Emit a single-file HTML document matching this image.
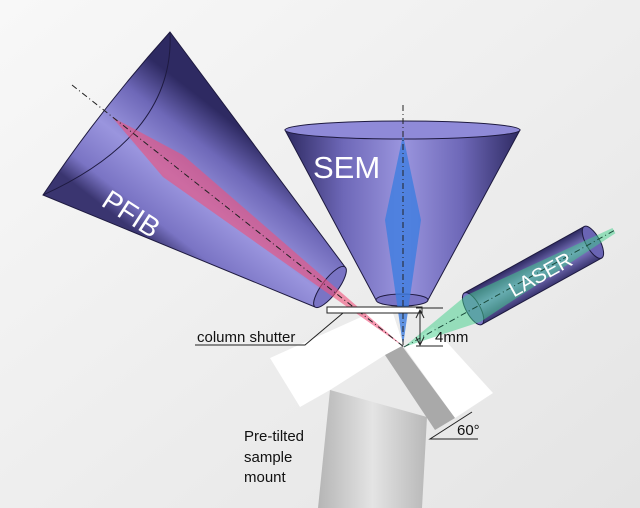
<!DOCTYPE html>
<html><head><meta charset="utf-8"><style>
html,body{margin:0;padding:0;width:640px;height:508px;overflow:hidden;background:#efefef}
svg{display:block}
text{font-family:"Liberation Sans",sans-serif}
</style></head><body>
<svg width="640" height="508" viewBox="0 0 640 508">
<defs>
<linearGradient id="bg" x1="0" y1="0" x2="1" y2="1"><stop offset="0" stop-color="#f8f8f8"/><stop offset="1" stop-color="#e4e4e4"/></linearGradient>
<linearGradient id="gp" gradientUnits="userSpaceOnUse" x1="255" y1="140" x2="165" y2="255"><stop offset="0" stop-color="#2e2a62"/><stop offset="0.25" stop-color="#6e68b8"/><stop offset="0.55" stop-color="#9a95de"/><stop offset="0.85" stop-color="#7a74c4"/><stop offset="1" stop-color="#3a3570"/></linearGradient>
<linearGradient id="gs" gradientUnits="userSpaceOnUse" x1="285" y1="0" x2="520" y2="0"><stop offset="0" stop-color="#2e2a62"/><stop offset="0.25" stop-color="#6e68b8"/><stop offset="0.5" stop-color="#9a95de"/><stop offset="0.75" stop-color="#6e68b8"/><stop offset="1" stop-color="#2e2a62"/></linearGradient>
<linearGradient id="gl" x1="0" y1="0" x2="0" y2="1"><stop offset="0" stop-color="#2e2a62"/><stop offset="0.5" stop-color="#8f8ad8"/><stop offset="1" stop-color="#3a3570"/></linearGradient>
<linearGradient id="gm" x1="0" y1="0" x2="1" y2="0"><stop offset="0" stop-color="#b5b5b5"/><stop offset="0.5" stop-color="#e4e4e4"/><stop offset="1" stop-color="#b8b8b8"/></linearGradient>
</defs>
<rect width="640" height="508" fill="url(#bg)"/>

<!-- sample mount pillar -->
<polygon points="330,390 427,417 422,508 318,508" fill="url(#gm)"/>
<!-- white sample holder -->
<polygon points="270,358 390,304 404,347 385,355 330,390 300,407" fill="#fff"/>
<polygon points="404,347 433,327 493,393 455,418" fill="#fff"/>
<polygon points="385,355 402,346 455,418 435,430" fill="#a9a9a9"/>

<!-- PFIB -->
<path d="M170,32 L345,267 L315,307 L43,195 Q100,110 170,32 Z" fill="url(#gp)" stroke="#1e1a40" stroke-width="1"/>
<path d="M170,32 Q175,135 43,195" fill="none" stroke="#1e1a40" stroke-width="1"/>
<ellipse cx="330" cy="287" rx="25" ry="8" transform="rotate(127 330 287)" fill="#7a74c4" stroke="#1e1a40"/>
<polygon points="112,117 183,155 404,347 163,177" fill="#f0507a" opacity="0.6"/>
<line x1="72" y1="85" x2="404" y2="347" stroke="#222" stroke-width="1" stroke-dasharray="6,3,1,3"/>
<text x="0" y="0" font-size="28" fill="#fff" transform="translate(100,205) rotate(33)">PFIB</text>

<!-- SEM -->
<path d="M285,130 L376,300 L428,300 L520,130 Z" fill="url(#gs)" stroke="#1e1a40"/>
<ellipse cx="402.5" cy="130" rx="117.5" ry="9" fill="#8f8ad8" stroke="#1e1a40"/>
<ellipse cx="402" cy="300" rx="26" ry="6" fill="#7a74c4" stroke="#1e1a40"/>
<polygon points="403,135 421,220 403,346 385,220" fill="#3d7de0" opacity="0.8"/>
<line x1="403" y1="105" x2="403" y2="346" stroke="#222" stroke-width="1" stroke-dasharray="6,3,1,3"/>
<text x="313" y="178" font-size="31" fill="#fff">SEM</text>

<!-- LASER -->
<g transform="translate(404,347) rotate(-29)">
<rect x="79" y="-18" width="137" height="36" fill="url(#gl)" stroke="#1e1a40"/>
<ellipse cx="216" cy="0" rx="7" ry="18" fill="#6a64b4" stroke="#1e1a40"/>
<ellipse cx="79" cy="0" rx="7" ry="18" fill="#7a74c4" stroke="#1e1a40"/>
<polygon points="0,0 79,-15 240,-3 240,3 79,15" fill="#3fd08a" opacity="0.5"/>
<line x1="0" y1="0" x2="240" y2="0" stroke="#1a4a3a" stroke-width="1" stroke-dasharray="6,3,1,3"/>
<text x="120" y="10" font-size="21" fill="#fff">LASER</text>
</g>

<!-- shutter -->
<rect x="327" y="307" width="95" height="6" fill="#fff" stroke="#222" stroke-width="1"/>
<line x1="416" y1="308" x2="443" y2="308" stroke="#222"/>
<line x1="416" y1="346" x2="443" y2="346" stroke="#222"/>
<line x1="420" y1="310" x2="420" y2="345" stroke="#222"/>
<polyline points="416,318 420,310 424,318" fill="none" stroke="#222"/>
<polyline points="416,337 420,345 424,337" fill="none" stroke="#222"/>
<text x="435" y="342" font-size="15" fill="#111">4mm</text>

<polyline points="195,345 305,345 343,313" fill="none" stroke="#222"/>
<text x="197" y="342" font-size="15" fill="#111">column shutter</text>

<polyline points="472,412 430,439 478,439" fill="none" stroke="#222"/>
<text x="457" y="435" font-size="15" fill="#111">60°</text>

<text x="244" y="441" font-size="15" fill="#111">Pre-tilted</text>
<text x="244" y="462" font-size="15" fill="#111">sample</text>
<text x="244" y="482" font-size="15" fill="#111">mount</text>
</svg>
</body></html>
